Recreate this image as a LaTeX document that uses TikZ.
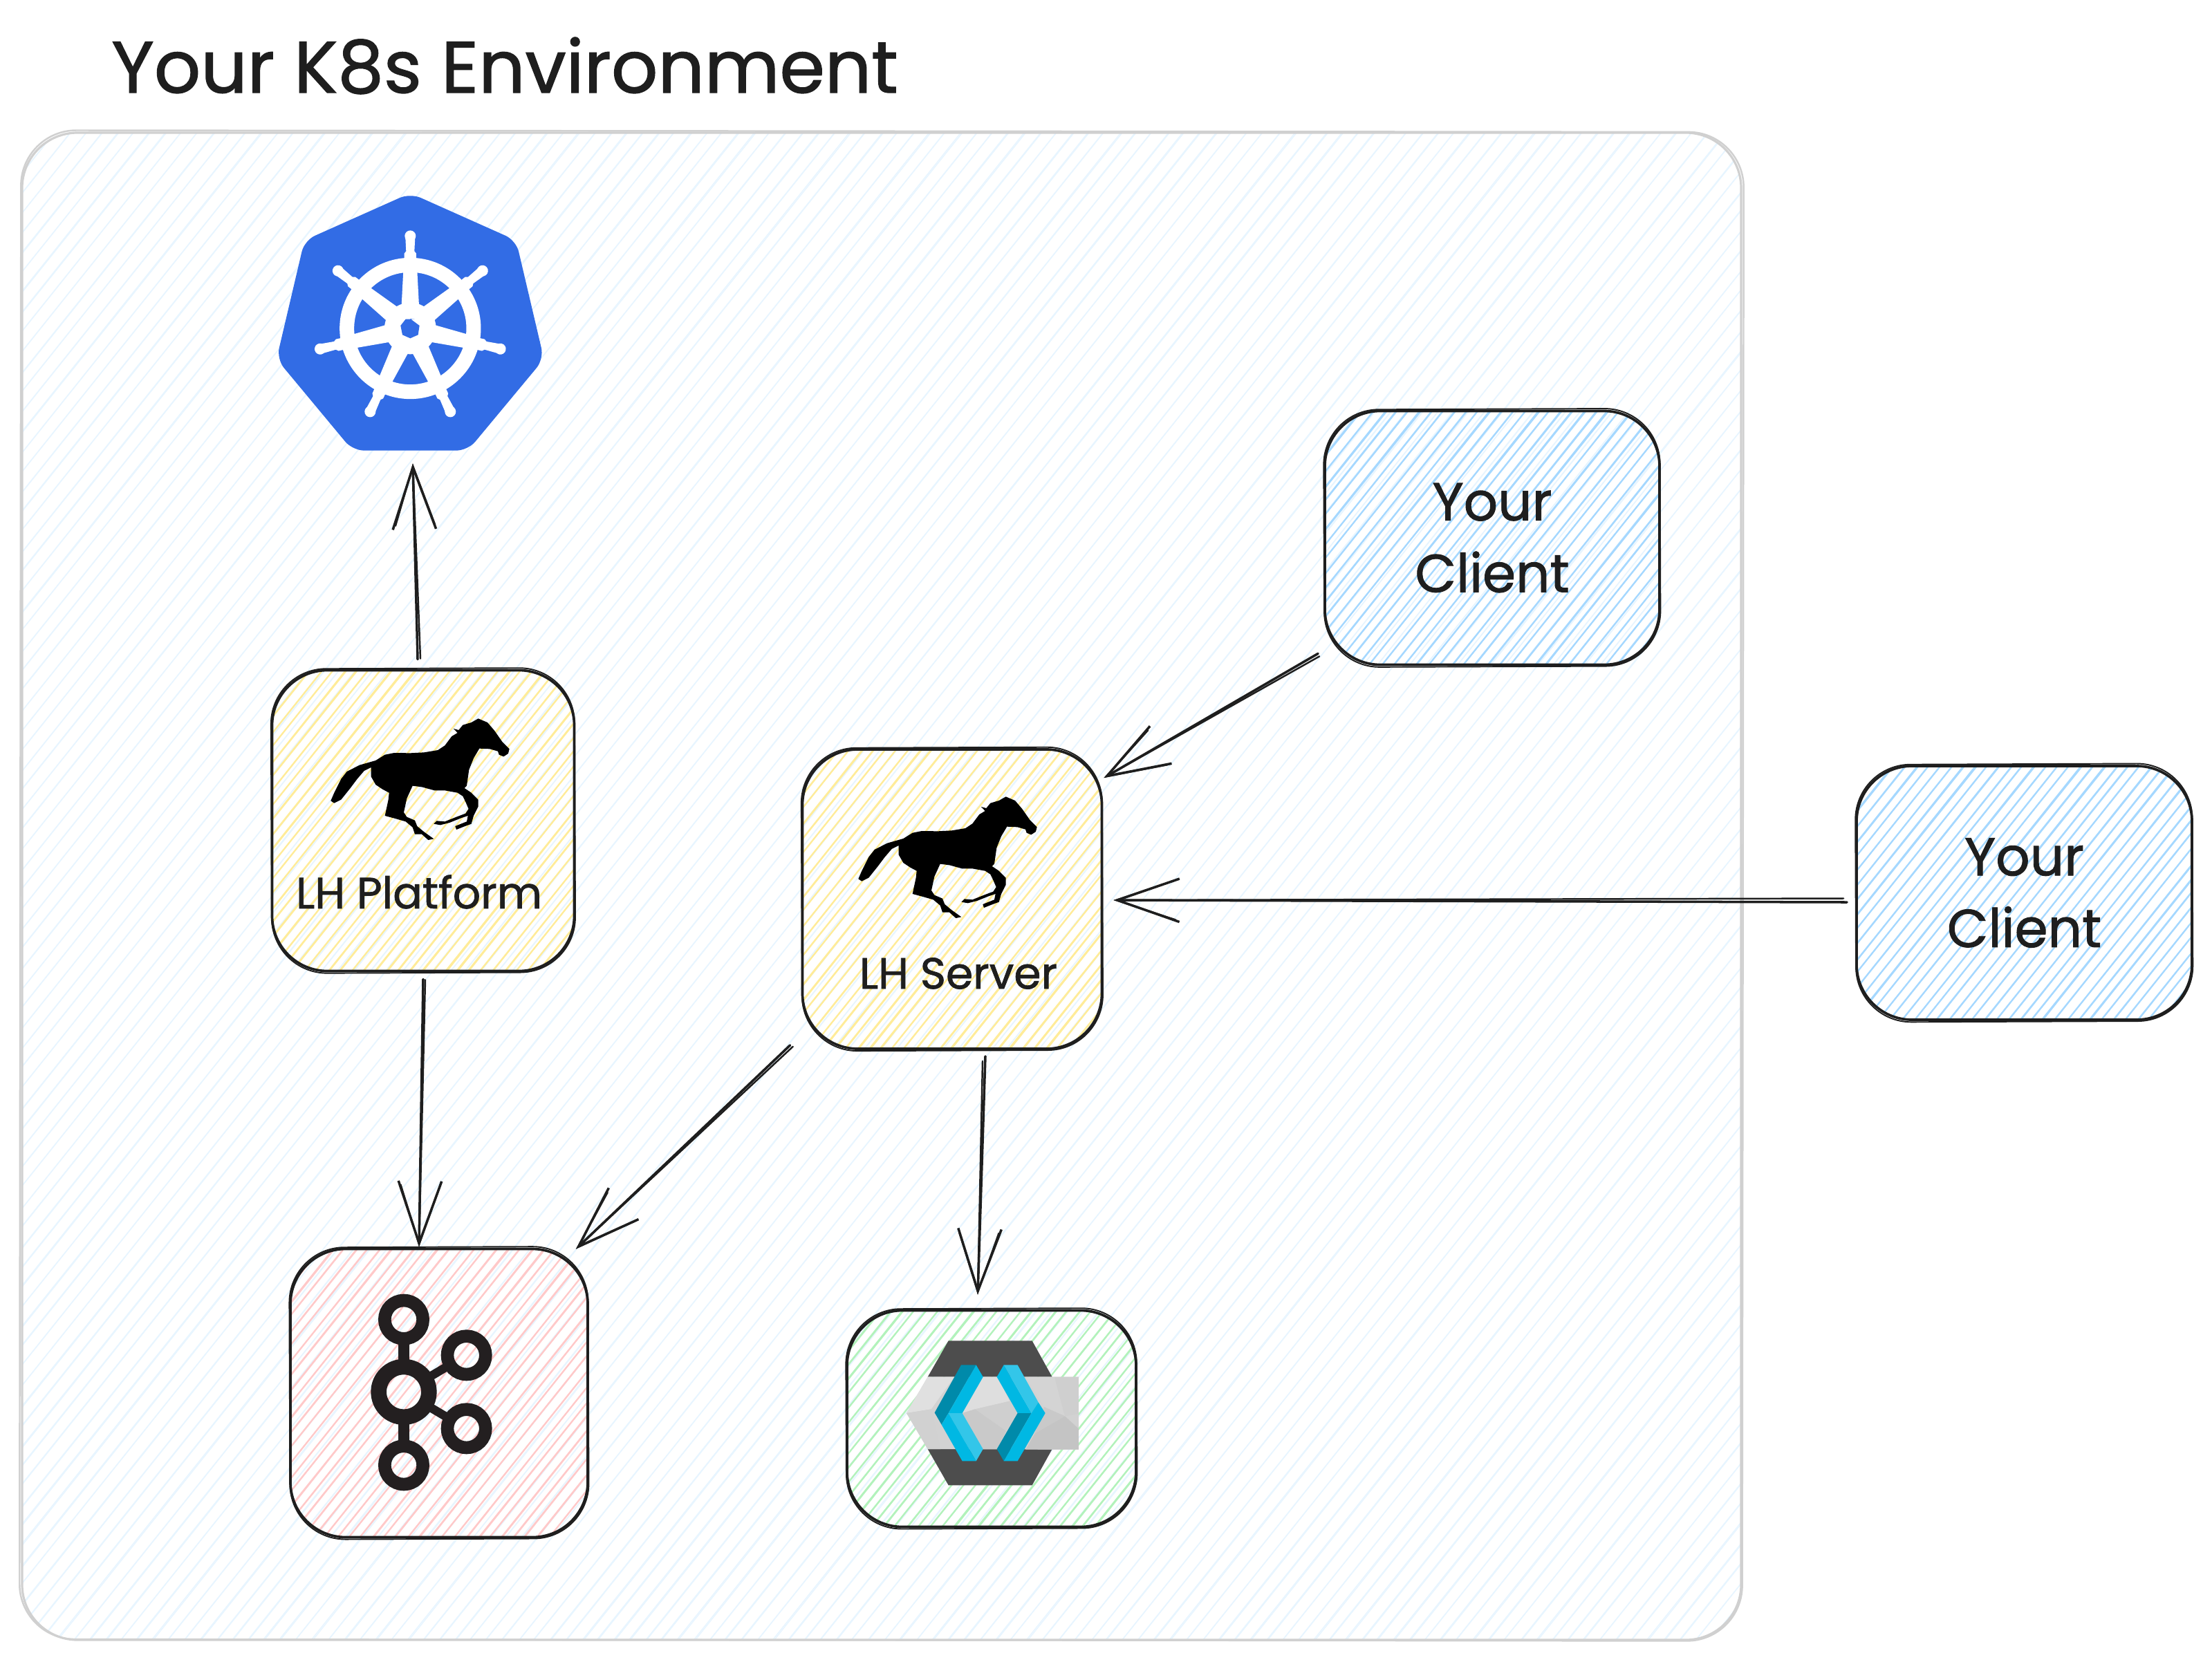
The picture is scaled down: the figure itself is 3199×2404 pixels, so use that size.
\documentclass[tikz,border=0pt]{standalone}
\usepackage{fontspec}
\setmainfont{Poppins}[FakeBold=1.2]
\usetikzlibrary{arrows.meta,calc}
\definecolor{ink}{HTML}{1E1E1E}
\definecolor{bluefill}{HTML}{A5D8FF}
\definecolor{yellowfill}{HTML}{FFEC99}
\definecolor{redfill}{HTML}{FFC9C9}
\definecolor{greenfill}{HTML}{B2F2BB}
\definecolor{bgfill}{HTML}{E7F5FF}
\definecolor{framegray}{HTML}{D0D0D0}
\definecolor{k8sblue}{HTML}{326CE5}
\definecolor{kafkaink}{HTML}{231F20}
\definecolor{kcdark}{HTML}{4D4D4D}
\definecolor{kcA}{HTML}{008AAA}
\definecolor{kcB}{HTML}{00B8E3}
\definecolor{kcC}{HTML}{33C6E9}
% colour, half range, half length, spacing, stroke width
\newcommand\hachure[5]{%
  \begin{scope}[shift={(path picture bounding box.center)},sharp corners]
    \pgfmathtruncatemacro\nh{#2/#4}
    \foreach \i in {-\nh,...,\nh}{
      \pgfmathsetmacro\oa{\i*#4+3*rnd}
      \pgfmathsetmacro\ob{\oa+2.5*rnd}
      \pgfmathsetmacro\oc{\oa+2.5*rnd}
      \draw[#1,line width=#5] (\oa-#3,1.25*#3) -- (\ob+#3,-1.25*#3);
      \draw[#1,line width=#5] (\oc-#3,1.25*#3) -- (\oa+#3,-1.25*#3);
    }
  \end{scope}}
% name, cx, cy, w, h, colour, text
\newcommand\skbox[7]{%
  \pgfmathtruncatemacro\hh{#4/2+#5/2.4+120}
  \pgfmathtruncatemacro\ll{#5/2.4+90}
  \node[sketchbox,minimum width=#4*0.02cm,minimum height=#5*0.02cm,
        path picture={\hachure{#6}{\hh}{\ll}{17}{1.15pt}}] (#1) at (#2,#3) {#7};
  \draw[ink,line width=1.1pt,rounded corners=1.6cm,rotate around={0.22:(#1.center)}]
    (#1.north west) rectangle (#1.south east);
}
% from anchor, offset, to anchor, offset, second tail offset
\newcommand\skarrow[5]{%
  \draw[skline,-{Straight Barb[length=1.8cm,width=1.25cm]}]
    ([shift={(#2)}]#1) -- ([shift={(#4)}]#3);
  \draw[skline,line width=1.4pt,-{Straight Barb[length=1.72cm,width=1.15cm]}]
    ([shift={(#5)}]#1) -- ([shift={(#4)}]#3);
}
\newcommand\horsepath{%
 (295,625)--(310,590)--(340,530)--(365,498)--(420,470)--(490,450)--(530,425)--(570,417)--(640,418)--(700,415)--(760,405)--(790,385)--(820,345)--(845,330)--(828,312)--(850,318)--(868,296)--(905,285)--(935,268)--(975,285)--(1005,320)--(1040,370)--(1070,400)--(1065,420)--(1045,433)--(1025,425)--(1020,410)--(985,400)--(940,398)--(915,440)--(895,490)--(885,560)--(875,570)--(905,590)--(935,620)--(935,650)--(915,690)--(905,725)--(870,738)--(840,750)--(835,735)--(860,725)--(885,715)--(890,690)--(860,700)--(810,720)--(770,730)--(742,725)--(755,712)--(790,715)--(840,695)--(880,680)--(893,660)--(880,630)--(868,605)--(845,590)--(790,580)--(745,580)--(690,565)--(650,560)--(625,615)--(612,675)--(625,695)--(660,710)--(670,735)--(700,760)--(742,790)--(718,795)--(690,770)--(660,770)--(650,740)--(620,715)--(575,702)--(530,690)--(545,620)--(548,590)--(520,575)--(490,555)--(470,520)--(470,480)--(440,495)--(410,530)--(380,570)--(340,620)--(310,635)--cycle}
\tikzset{
  sketchbox/.style={draw=ink,line width=2.1pt,rounded corners=1.6cm,inner sep=0pt,align=center,text=ink,font=\fontsize{44}{59}\selectfont},
  skline/.style={draw=ink,line width=2pt,line cap=round,line join=round},
  zoomframe/.style={x=0.006667cm,y=-0.006667cm},
  labeltext/.style={text=ink,inner sep=0pt,font=\fontsize{36}{42}\selectfont},
}
\begin{document}
\begin{tikzpicture}[x=0.02cm,y=-0.02cm]
\pgfmathsetseed{42}
\useasboundingbox (0,0) rectangle (3199,2404);
\fill[white] (0,0) rectangle (3199,2404);

% environment frame
\pgfmathtruncatemacro\hh{1245+1092/1.2+60}
\node[draw=framegray,line width=1.8pt,rounded corners=1.6cm,inner sep=0pt,
      minimum width=2486*0.02cm,minimum height=2180*0.02cm,
      path picture={\hachure{bgfill}{\hh}{920}{23}{0.8pt}}] (env) at (1275,1282) {};
\draw[framegray,line width=1.4pt,rounded corners=1.6cm,rotate around={-0.06:(env.center)}]
  ([shift={(0,-2)}]env.north west) rectangle (env.south east);
\node[inner sep=0pt,text=ink,font=\fontsize{60}{72}\selectfont] (title) at (730,95) {Your K8s Environment};

% kubernetes logo
\node[inner sep=0pt,minimum width=380*0.02cm,minimum height=366*0.02cm] (k8s) at (593,468) {};
\begin{scope}[shift={(380,260)},zoomframe]
  \fill[k8sblue,rounded corners=0.33cm] (640,58)--(1099,263)--(1220,778)--(890,1175)--(390,1175)--(60,778)--(181,263)--cycle;
  \draw[white,line width=0.42cm] (640,645) circle (275);
  \foreach \k in {0,...,6}{
    \begin{scope}[shift={(640,645)},rotate=\k*360/7]
      \fill[white] (-29,-270)--(-38,-100)--(38,-100)--(29,-270)--cycle;
      \fill[white] (-26,-290)--(-26,-325)--(-18,-335)--(-21,-395)--(21,-395)--(18,-335)--(26,-325)--(26,-290)--cycle;
      \fill[white] (0,-401) circle (24);
    \end{scope}
  }
  \fill[white] (640,645) circle (112);
  \fill[k8sblue] (640,603)--(680,633)--(674,673)--(640,688)--(606,673)--(598,633)--(620,605)--(660,605)--cycle;
\end{scope}

% client boxes
\skbox{clienta}{2158}{778}{484}{367}{bluefill}{Your\\Client}
\skbox{clientb}{2927.5}{1291.5}{485}{367}{bluefill}{Your\\Client}

% LH Platform
\skbox{plat}{612}{1187}{437}{435}{yellowfill}{}
\begin{scope}[shift={(380,950)},zoomframe]
  \fill[black] \horsepath;
\end{scope}
\node[labeltext] (platlabel) at (606,1290) {LH Platform};

% LH Server
\skbox{server}{1377}{1300.5}{433}{433}{yellowfill}{}
\begin{scope}[shift={(1143,1063)},zoomframe]
  \fill[black] \horsepath;
\end{scope}
\node[labeltext] (serverlabel) at (1386,1408) {LH Server};

% Kafka
\skbox{kafka}{635}{2015}{430}{417}{redfill}{}
\begin{scope}[shift={(400,1780)},zoomframe]
  \draw[kafkaink,line width=0.307cm] (552,591)--(552,469) (552,809)--(552,937);
  \draw[kafkaink,line width=0.25cm] (660,637)--(746,586) (660,763)--(746,814);
  \draw[kafkaink,line width=0.453cm] (552,700) circle (109);
  \draw[kafkaink,line width=0.373cm] (552,386) circle (83) (824,541) circle (83) (824,859) circle (83) (552,1018) circle (83);
\end{scope}

% Keycloak
\skbox{kc}{1434}{2052}{418}{313}{greenfill}{}
\begin{scope}[shift={(1200,1870)},zoomframe]
  \fill[kcdark] (515,208)--(878,208)--(965,365)--(425,365)--cycle;
  \fill[kcdark] (425,678)--(965,678)--(878,835)--(515,835)--cycle;
  \fill[gray!35!white] (425,365)--(1080,365)--(1080,680)--(425,678)--(333,522)--cycle;
  \fill[black!12] (425,365)--(540,365)--(440,505)--(333,522)--cycle;
  \fill[black!18] (333,522)--(440,505)--(480,678)--(425,678)--cycle;
  \fill[black!13] (660,365)--(730,365)--(780,470)--(630,505)--(575,522)--cycle;
  \fill[black!19] (630,505)--(780,470)--(815,522)--(765,600)--cycle;
  \fill[black!21] (575,522)--(630,505)--(765,600)--(725,678)--(665,678)--cycle;
  \fill[black!23] (890,610)--(1020,535)--(1080,590)--(1080,680)--(850,680)--cycle;
  \fill[black!17] (850,365)--(975,365)--(1020,535)--(930,495)--cycle;
  \fill[black!19] (975,365)--(1080,365)--(1080,525)--(1020,535)--cycle;
  \fill[black!21] (930,495)--(1020,535)--(890,610)--cycle;
  \fill[kcA] (570,313)--(635,313)--(515,522)--(485,572)--(455,520)--cycle;
  \fill[kcB] (635,313)--(665,365)--(575,522)--(515,522)--cycle;
  \fill[kcC] (515,522)--(575,522)--(665,678)--(635,730)--cycle;
  \fill[kcB] (515,522)--(635,730)--(575,730)--(485,572)--cycle;
  \fill[kcB] (755,313)--(875,522)--(815,522)--(725,365)--cycle;
  \fill[kcC] (755,313)--(815,313)--(905,475)--(875,522)--cycle;
  \fill[kcA] (815,522)--(875,522)--(755,730)--(725,678)--cycle;
  \fill[kcB] (875,522)--(905,475)--(935,522)--(815,730)--(755,730)--cycle;
\end{scope}

% connectors
\skarrow{plat.north}{-8,-14}{k8s.south}{4,19}{-4,-15}
\skarrow{plat.south}{0,10}{kafka.north}{-29,-1}{3,11}
\skarrow{server.south west}{-16,-7}{kafka.north east}{-19,2}{-12,-5}
\skarrow{server.south}{48,9}{kc.north}{-20,-21}{44,16}
\skarrow{clienta.south west}{-8,-18}{server.north east}{1,43}{-6,-14}
\skarrow{clientb.west}{-12,13.5}{server.east}{15,1.5}{-17,8}
\end{tikzpicture}
\end{document}
